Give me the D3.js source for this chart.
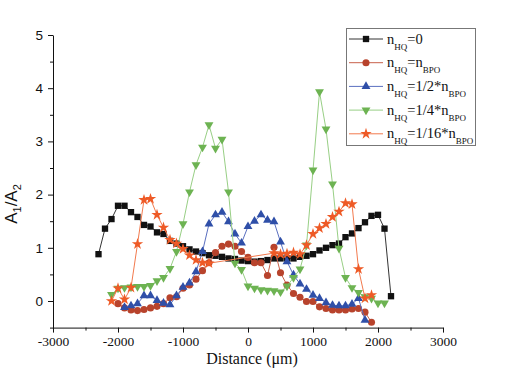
<!DOCTYPE html>
<html>
<head>
<meta charset="utf-8">
<script src="https://cdn.jsdelivr.net/npm/d3@7"></script>
<style>
  body { margin: 0; background: #fff; }
  svg { display: block; }
</style>
</head>
<body>
<div id="chart"></div>
<script>
// distances (um) and A1/A2 ratios
var distBlack = [-2300,-2200,-2100,-2000,-1900,-1800,-1700,-1600,-1500,-1400,-1300,-1200,-1100,-1000,-900,-800,-700,-600,-500,-400,-300,-200,-100,0,100,200,300,400,500,600,700,800,900,1000,1100,1200,1300,1400,1500,1600,1700,1800,1900,2000,2100,2200];
var valBlack = [0.88,1.36,1.54,1.79,1.79,1.67,1.58,1.43,1.40,1.29,1.26,1.13,1.08,1.03,0.97,0.93,0.90,0.86,0.85,0.83,0.80,0.79,0.76,0.75,0.74,0.75,0.77,0.80,0.80,0.80,0.80,0.83,0.85,0.88,0.95,1.00,1.05,1.08,1.20,1.27,1.37,1.48,1.60,1.62,1.36,0.09];

var distRed = [-2000,-1900,-1800,-1700,-1600,-1500,-1400,-1300,-1200,-1100,-1000,-900,-800,-700,-600,-500,-400,-300,-200,-100,0,100,200,300,400,500,600,700,800,900,1000,1100,1200,1300,1400,1500,1600,1700,1800,1900];
var valRed = [-0.05,-0.13,-0.17,-0.18,-0.16,-0.13,-0.10,-0.05,0.06,0.08,0.24,0.30,0.41,0.57,0.72,0.91,1.03,1.07,1.03,0.93,0.82,0.72,0.72,0.48,1.01,0.53,0.30,0.14,0.07,-0.01,-0.01,-0.11,-0.14,-0.17,-0.17,-0.17,-0.15,-0.14,-0.21,-0.40];

var distBlue = [-1900,-1800,-1700,-1600,-1500,-1400,-1300,-1200,-1100,-1000,-900,-800,-700,-600,-500,-400,-300,-200,-100,0,100,200,300,400,500,600,700,800,900,1000,1100,1200,1300,1400,1500,1600,1700,1800];
var valBlue = [-0.12,-0.09,-0.05,0.10,0.10,0.01,-0.04,-0.07,0.10,0.26,0.34,0.55,0.93,1.45,1.62,1.67,1.49,1.26,1.09,1.40,1.50,1.62,1.52,1.49,1.11,0.74,0.49,0.32,0.22,0.11,0.05,-0.03,-0.08,-0.09,-0.09,-0.06,0.05,-0.36];

var distGreen = [-2100,-2000,-1900,-1800,-1700,-1600,-1500,-1400,-1300,-1200,-1100,-1000,-900,-800,-700,-600,-500,-400,-300,-200,-100,0,100,200,300,400,500,600,700,800,900,1000,1100,1200,1300,1400,1500,1600,1700,1800,1900,2000,2100];
var valGreen = [0.12,0.24,0.25,0.26,0.27,0.27,0.29,0.38,0.44,0.61,0.93,1.45,2.05,2.56,2.89,3.31,2.87,3.04,2.05,0.71,0.59,0.28,0.24,0.21,0.20,0.19,0.17,0.28,0.44,0.60,1.05,2.46,3.93,3.23,2.20,0.99,0.44,0.25,0.16,0.08,0.05,-0.04,-0.04];

var distOrange = [-2100,-2000,-1900,-1800,-1700,-1600,-1500,-1400,-1300,-1200,-1100,-1000,-900,-800,-700,-600,400,500,600,700,800,900,1000,1100,1200,1300,1400,1500,1600,1700,1800,1900];
var valOrange = [0.00,0.24,0.03,0.25,1.07,1.90,1.92,1.62,1.38,1.15,1.08,0.98,0.86,0.77,0.72,0.71,0.90,0.88,0.89,0.91,0.88,1.05,1.26,1.37,1.45,1.58,1.68,1.84,1.82,0.60,0.05,0.11];

var xTicks = [-3000,-2000,-1000,0,1000,2000,3000];
var yTicks = [0,1,2,3,4,5];

var series = [
  { dist: distBlack,  vals: valBlack,  fill: "#111111", line: "#333333", shape: "square",   label: ["=0"] },
  { dist: distRed,    vals: valRed,    fill: "#b8432c", line: "#c8614a", shape: "circle",   label: ["=n", "BPO"] },
  { dist: distBlue,   vals: valBlue,   fill: "#2f4fa8", line: "#5a6fc0", shape: "triangle", label: ["=1/2*n", "BPO"] },
  { dist: distGreen,  vals: valGreen,  fill: "#6db352", line: "#98cf85", shape: "down",     label: ["=1/4*n", "BPO"] },
  { dist: distOrange, vals: valOrange, fill: "#ee5a26", line: "#f27a4e", shape: "star",     label: ["=1/16*n", "BPO"] }
];

var W = 523, H = 375;
var svg = d3.select("#chart").append("svg").attr("width", W).attr("height", H);

var x = d3.scaleLinear().domain([-3000, 3000]).range([53, 443]);
var y = d3.scaleLinear().domain([-0.5, 5]).range([327.6, 35]);

// axes
var xAxis = svg.append("g").attr("transform", "translate(0," + y(-0.5) + ")")
  .call(d3.axisBottom(x).tickValues(xTicks).tickSize(5).tickSizeOuter(0).tickPadding(4)
    .tickFormat(function(d) { return String(d); }));
xAxis.attr("font-family", "'Liberation Serif', serif").attr("font-size", 13.5);
xAxis.selectAll("text").attr("fill", "#111");
svg.append("g").attr("transform", "translate(0," + y(-0.5) + ")")
  .call(d3.axisBottom(x).tickValues([-2500,-1500,-500,500,1500,2500]).tickSize(3).tickFormat(""))
  .select(".domain").remove();

var yAxis = svg.append("g").attr("transform", "translate(" + x(-3000) + ",0)")
  .call(d3.axisLeft(y).tickValues(yTicks).tickSize(5).tickSizeOuter(0).tickPadding(5)
    .tickFormat(d3.format("d")));
yAxis.attr("font-family", "'Liberation Sans', sans-serif").attr("font-size", 13.5);
yAxis.selectAll("text").attr("fill", "#111");
svg.append("g").attr("transform", "translate(" + x(-3000) + ",0)")
  .call(d3.axisLeft(y).tickValues([-0.5,0.5,1.5,2.5,3.5,4.5]).tickSize(3).tickFormat(""))
  .select(".domain").remove();
svg.selectAll(".domain, .tick line").attr("stroke", "#111");

// axis titles
svg.append("text").attr("x", 252).attr("y", 364).attr("text-anchor", "middle")
  .attr("font-family", "'Liberation Serif', serif").attr("font-size", 16).attr("fill", "#111")
  .text("Distance (\u03bcm)");
var yl = svg.append("text").attr("transform", "translate(17,204) rotate(-90)").attr("text-anchor", "middle")
  .attr("font-family", "'Liberation Sans', sans-serif").attr("font-size", 17).attr("fill", "#111");
yl.append("tspan").text("A");
yl.append("tspan").attr("font-size", 11).attr("dy", 4).text("1");
yl.append("tspan").attr("dy", -4).text("/A");
yl.append("tspan").attr("font-size", 11).attr("dy", 4).text("2");

function symbolFor(shape) {
  if (shape === "square") return d3.symbol(d3.symbolSquare, 40);
  if (shape === "circle") return d3.symbol(d3.symbolCircle, 40);
  if (shape === "triangle" || shape === "down") return d3.symbol(d3.symbolTriangle, 34);
  return d3.symbol(d3.symbolStar, 40);
}

var line = d3.line();
series.forEach(function(s) {
  var pts = s.dist.map(function(d, i) { return [x(d), y(s.vals[i])]; });
  svg.append("path").attr("d", line(pts)).attr("fill", "none").attr("stroke", s.line).attr("stroke-width", 1);
  var sym = symbolFor(s.shape);
  svg.append("g").selectAll("path").data(pts).enter().append("path")
    .attr("d", sym)
    .attr("transform", function(p) { return "translate(" + p[0] + "," + p[1] + ")" + (s.shape === "down" ? " rotate(180)" : ""); })
    .attr("fill", s.fill);
});

// legend
var lg = svg.append("g");
lg.append("rect").attr("x", 346.5).attr("y", 28.5).attr("width", 129).attr("height", 117)
  .attr("fill", "#fff").attr("stroke", "#777").attr("stroke-width", 1);
series.forEach(function(s, i) {
  var cy = 39 + i * 23.7;
  lg.append("line").attr("x1", 349).attr("x2", 383).attr("y1", cy).attr("y2", cy).attr("stroke", s.line).attr("stroke-width", 1);
  lg.append("path").attr("d", symbolFor(s.shape))
    .attr("transform", "translate(366," + cy + ")" + (s.shape === "down" ? " rotate(180)" : ""))
    .attr("fill", s.fill);
  var t = lg.append("text").attr("x", 387).attr("y", cy + 4.5)
    .attr("font-family", "'Liberation Serif', serif").attr("font-size", 14.5).attr("fill", "#111");
  t.append("tspan").text("n");
  t.append("tspan").attr("font-size", 9).attr("dy", 6).text("HQ");
  t.append("tspan").attr("dy", -6).text(s.label[0]);
  if (s.label[1]) t.append("tspan").attr("font-size", 9).attr("dy", 6).text(s.label[1]);
});
</script>
</body>
</html>
